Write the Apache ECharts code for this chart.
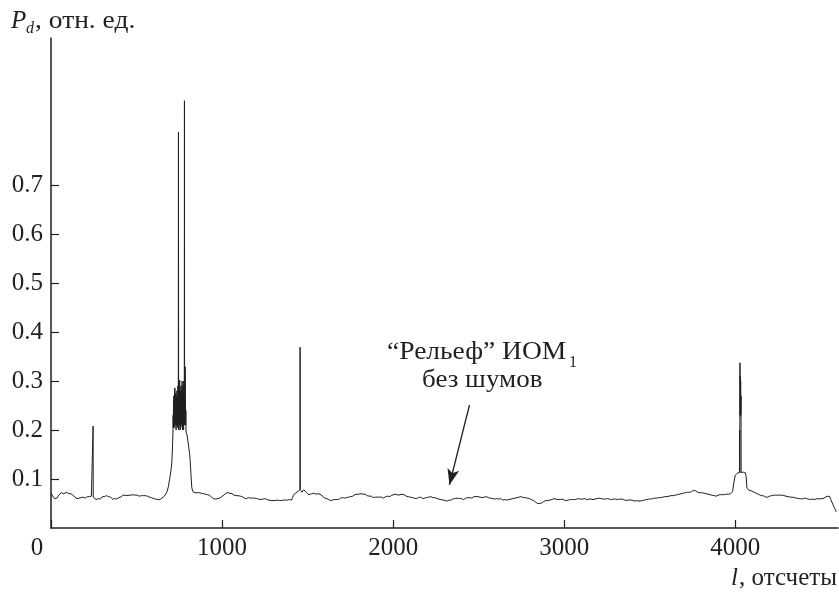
<!DOCTYPE html>
<html>
<head>
<meta charset="utf-8">
<script src="https://cdn.jsdelivr.net/npm/echarts@6/dist/echarts.min.js"></script>
<style>html,body{margin:0;padding:0;background:#fff}#c{width:839px;height:592px}</style>
</head>
<body>
<div id="c"></div>
<script>
const segStart = [
[0,.071],[5,.068],[10,.065],[15,.063],[20,.060],[25,.058],[30,.059],[35,.061],[40,.064],[45,.067],[50,.069],[55,.070],[60,.072],[65,.069],[70,.071],[75,.070],[80,.072],[86,.071],[92,.073],[98,.071],[104,.070],[110,.072],[116,.070],[122,.069],[128,.067],[134,.065],[140,.063],[146,.062],[152,.060],[158,.062],[164,.061],[170,.060],[176,.062],[182,.061],[188,.063],[194,.062],[200,.061],[206,.063],[212,.064],[218,.062],[224,.064],[230,.063],[236,.065],[242,.064],[245,.064],[246,.208],[247,.063],
[252,.061],[258,.060],[264,.058],[270,.059],[276,.060],[282,.058],[288,.059],[294,.062],[300,.064],[306,.066],[312,.064],[318,.065],[324,.066],[330,.063],[336,.064],[342,.062],[348,.063],[354,.060],[360,.059],[366,.058],[372,.060],[378,.058],[384,.059],[390,.061],[396,.062],[402,.064],[408,.063],[414,.066],[420,.067],[426,.069],[432,.067],[438,.068],[444,.066],[450,.068],[456,.067],[462,.069],[468,.067],[474,.066],[480,.068],[486,.066],[492,.067],[498,.065],[504,.067],[510,.066],[516,.065],[522,.067],[528,.066],[534,.064],[540,.066],[546,.065],[552,.066],[558,.064],[564,.065],[570,.064],[576,.063],[582,.064],[588,.062],[594,.061],[600,.060],[606,.061],[612,.059],[618,.060],[624,.058],[630,.059],[636,.058],[642,.060],[648,.061],[654,.062],[660,.064],[667,.066],[676,.072],[686,.084],[696,.105],[702,.12]
];
const segMainPeak = [
[706,.133],[709,.155],[711,.175],[713,.2],[714,.23],[715,.205],[716,.26],[717,.21],[718,.27],[719,.215],[720,.25],[721,.205],[722,.28],[723,.22],[724,.286],[725,.21],[726,.26],[727,.22],[728,.275],[729,.215],[730,.25],[731,.2],[732,.27],[733,.22],[734,.26],[735,.21],[736,.28],[737,.23],[738,.25],[739,.205],[740,.27],[741,.22],[742,.29],[743,.23],[744,.25],[745,.808],[746,.24],[747,.2],[748,.27],[749,.215],[750,.28],[751,.22],[752,.302],[753,.21],[754,.26],[755,.2],[756,.28],[757,.22],[758,.27],[759,.205],[760,.29],[761,.23],[762,.25],[763,.21],[764,.28],[765,.22],[766,.3],[767,.215],[768,.26],[769,.2],[770,.28],[771,.23],[772,.29],[773,.21],[774,.25],[775,.2],[776,.3],[777,.22],[778,.27],[779,.21],[780,.872],[781,.22],[782,.3],[783,.21],[784,.329],[785,.23],[786,.26],[787,.21],[788,.24],[789,.2],[790,.195],[795,.19],[800,.178],[805,.165],[810,.152],[813,.14],[818,.11],[823,.082],[830,.074]
];
const segMiddle = [
[836,.073],[842,.072],[848,.074],[854,.072],[860,.071],[866,.072],[872,.070],[878,.071],[884,.069],[890,.070],[896,.068],[902,.069],[908,.067],[914,.068],[920,.066],[926,.067],[932,.064],[938,.063],[944,.061],[950,.060],[956,.058],[962,.059],[968,.058],[974,.060],[980,.059],[986,.061],[992,.062],[998,.064],[1004,.065],[1010,.067],[1016,.069],[1022,.071],[1028,.073],[1034,.072],[1040,.073],[1046,.071],[1052,.069],[1058,.070],[1064,.068],[1070,.067],[1076,.068],[1082,.066],[1088,.065],[1094,.066],[1100,.064],[1106,.065],[1112,.063],[1118,.064],[1124,.062],[1130,.061],[1136,.062],[1142,.060],[1148,.061],[1154,.062],[1160,.060],[1166,.061],[1172,.059],[1178,.061],[1184,.060],[1190,.061],[1196,.059],[1202,.060],[1208,.061],[1214,.059],[1220,.060],[1226,.058],[1232,.060],[1238,.059],[1244,.058],[1250,.060],[1256,.059],[1262,.058],[1268,.059],[1274,.057],[1280,.058],[1286,.056],[1292,.057],[1298,.056],[1304,.058],[1310,.056],[1316,.055],[1322,.057],[1328,.055],[1334,.056],[1340,.054],[1346,.056],[1352,.055],[1358,.057],[1364,.056],[1370,.057],[1376,.055],[1382,.057],[1388,.056],[1394,.058],[1400,.056],[1406,.057],[1412,.062],[1418,.067],[1424,.070],[1430,.072],[1436,.071],[1442,.074],[1448,.075],[1453,.077],[1455,.079],[1456,.369],[1457,.078],
[1462,.075],[1467,.073],[1472,.076],[1477,.078],[1482,.080],[1487,.077],[1492,.073],[1497,.071],[1502,.069],[1507,.068],[1512,.066],[1518,.068],[1524,.070],[1530,.069],[1536,.071],[1542,.068],[1548,.069],[1554,.071],[1560,.070],[1566,.068],[1572,.069],[1578,.067],[1584,.066],[1590,.064],[1596,.062],[1602,.061],[1608,.060],[1614,.058],[1620,.059],[1626,.057],[1632,.056],[1638,.058],[1644,.057],[1650,.059],[1656,.058],[1662,.060],[1668,.058],[1674,.059],[1680,.058],[1686,.060],[1692,.061],[1698,.060],[1704,.062],[1710,.060],[1716,.061],[1722,.060],[1728,.062],[1734,.061],[1740,.063],[1746,.062],[1752,.064],[1758,.063],[1764,.065],[1770,.066],[1776,.068],[1782,.067],[1788,.069],[1794,.070],[1800,.069],[1806,.071],[1812,.070],[1818,.071],[1824,.069],[1830,.068],[1836,.069],[1842,.067],[1848,.066],[1854,.067],[1860,.065],[1866,.064],[1872,.065],[1878,.063],[1884,.062],[1890,.064],[1896,.063],[1902,.065],[1908,.063],[1914,.062],[1920,.063],[1926,.061],[1932,.063],[1938,.062],[1944,.061],[1950,.063],[1956,.064],[1962,.066],[1968,.065],[1974,.066],[1980,.064],[1986,.066],[1992,.067],[1998,.066]
];
const segQuiet = [
[2004,.068],[2010,.067],[2016,.069],[2022,.068],[2028,.067],[2034,.069],[2040,.068],[2046,.070],[2052,.069],[2058,.067],[2064,.068],[2070,.066],[2076,.065],[2082,.066],[2088,.064],[2094,.065],[2100,.063],[2106,.064],[2112,.062],[2118,.063],[2124,.061],[2130,.062],[2136,.060],[2142,.061],[2148,.062],[2154,.061],[2160,.063],[2166,.062],[2172,.060],[2178,.062],[2184,.061],[2190,.063],[2196,.062],[2202,.064],[2208,.063],[2214,.062],[2220,.064],[2226,.063],[2232,.062],[2238,.064],[2244,.062],[2250,.061],[2256,.060],[2262,.061],[2268,.059],[2274,.060],[2280,.058],[2286,.059],[2292,.057],[2298,.058],[2304,.056],[2310,.057],[2316,.055],[2322,.056],[2328,.057],[2334,.058],[2340,.057],[2346,.059],[2352,.060],[2358,.058],[2364,.060],[2370,.059],[2376,.061],[2382,.059],[2388,.060],[2394,.058],[2400,.060],[2406,.059],[2412,.058],[2418,.060],[2424,.061],[2430,.060],[2436,.062],[2442,.061],[2448,.062],[2454,.063],[2460,.061],[2466,.062],[2472,.064],[2478,.063],[2484,.064],[2490,.062],[2496,.064],[2502,.065],[2508,.063],[2514,.064],[2520,.062],[2526,.064],[2532,.063],[2538,.065],[2544,.064],[2550,.063],[2556,.062],[2562,.063],[2568,.061],[2574,.062],[2580,.060],[2586,.061],[2592,.059],[2598,.061],[2604,.060],[2610,.058],[2616,.059],[2622,.058],[2628,.060],[2634,.058],[2640,.057],[2646,.059],[2652,.058],[2658,.056],[2664,.057],[2670,.059],[2676,.058],[2682,.060],[2688,.059],[2694,.061],[2700,.060],[2706,.062],[2712,.061],[2718,.063],[2724,.062],[2730,.061],[2736,.063],[2742,.062],[2748,.064],[2754,.063],[2760,.062],[2766,.064],[2772,.062],[2778,.063],[2784,.061],[2790,.062],[2796,.060],
[2802,.059],[2808,.058],[2814,.057],[2820,.056],[2826,.054],[2832,.053],[2838,.051],[2844,.050],[2850,.049],[2856,.050],[2862,.049],[2868,.051],[2874,.052],[2880,.054],[2886,.055],[2892,.056],[2898,.057],[2904,.056],[2910,.058],[2916,.057],[2922,.059],[2928,.058],[2934,.059],[2940,.060],[2946,.058],[2952,.059],[2958,.057],[2964,.058],[2970,.056],[2976,.058],[2982,.057],[2988,.059],[2994,.058],[3000,.057],[3006,.058],[3012,.056],[3018,.058],[3024,.057],[3030,.059],[3036,.058],[3042,.057],[3048,.058],[3054,.056],[3060,.058],[3066,.057],[3072,.059],[3078,.058],[3084,.060],[3090,.058],[3096,.059],[3102,.057],[3108,.059],[3114,.058],[3120,.060],[3126,.059],[3132,.058],[3138,.060],[3144,.059],[3150,.061],[3156,.059],[3162,.060],[3168,.058],[3174,.060],[3180,.059],[3186,.058],[3192,.060],[3198,.059],[3204,.061],[3210,.059],[3216,.060],[3222,.058],[3228,.059],[3234,.057],[3240,.059],[3246,.058],[3252,.060],[3258,.058],[3264,.059],[3270,.060],[3276,.058],[3282,.060],[3288,.059],[3294,.061],[3300,.059],[3306,.060],[3312,.058],[3318,.060],[3324,.059],[3330,.058],[3336,.059],[3342,.057],[3348,.058],[3354,.057],[3360,.056],[3366,.058],[3372,.057],[3378,.056],[3384,.057],[3390,.055],[3396,.057],[3402,.056],[3408,.055],[3414,.057],[3420,.056],[3426,.057],[3432,.055],[3438,.056],[3444,.055],[3450,.057],[3456,.056],[3462,.058],[3468,.057],[3474,.059],[3480,.058],[3486,.060],[3492,.059],[3498,.060],[3504,.059],[3510,.061],[3516,.060],[3522,.062],[3528,.061],[3534,.062],[3540,.061],[3546,.063],[3552,.062],[3558,.063],[3564,.062],[3570,.064],[3576,.063],[3582,.065],[3588,.064],[3594,.065],[3600,.064],[3606,.066],[3612,.065],[3618,.067],[3624,.066],[3630,.067],[3636,.066],[3642,.068],[3648,.067],[3654,.069],[3660,.068],[3666,.070],[3672,.069],[3678,.071],[3684,.070],[3690,.072],[3696,.071],[3702,.073],[3708,.072],[3714,.074],[3720,.073],[3726,.074],[3732,.073],[3738,.075],[3744,.074],[3750,.076],[3756,.077],[3762,.075],[3768,.076],[3774,.074],[3780,.073],[3786,.074],[3792,.072],[3798,.071],[3804,.072],[3810,.070],[3816,.071],[3822,.069],[3828,.070],[3834,.068],[3840,.069],[3846,.067],[3852,.068],[3858,.066],[3864,.067],[3870,.068],[3876,.066],[3882,.067],[3888,.065],[3894,.066],[3900,.067],[3906,.066],[3912,.068],[3918,.067],[3924,.068],[3930,.069],[3936,.068],[3942,.070],[3948,.069],[3954,.070],[3960,.069],[3966,.071],[3972,.070],[3978,.071]
];
const segPeak4000 = [
[3984,.074],[3990,.09],[3995,.1],[4000,.108],[4006,.11],[4012,.112],[4018,.111],[4024,.113],[4025,.2],[4026,.113],[4027,.337],[4028,.23],[4029,.31],[4030,.228],[4031,.30],[4032,.232],[4033,.27],[4034,.113],[4040,.112],[4046,.114],[4052,.112],[4058,.113],[4063,.105],[4066,.09],[4068,.081]
];
const segEnd = [
[4074,.078],[4080,.077],[4086,.078],[4092,.076],[4098,.075],[4104,.074],[4110,.073],[4116,.072],[4122,.071],[4128,.070],[4134,.069],[4140,.068],[4146,.067],[4152,.066],[4158,.065],[4164,.066],[4170,.064],[4176,.063],[4182,.064],[4188,.063],[4194,.064],[4200,.065],[4206,.064],[4212,.066],[4218,.065],[4224,.067],[4230,.066],[4236,.067],[4242,.068],[4248,.067],[4254,.068],[4260,.067],[4266,.066],[4272,.067],[4278,.065],[4284,.066],[4290,.064],[4296,.065],[4302,.063],[4308,.064],[4314,.062],[4320,.063],[4326,.062],[4332,.063],[4338,.061],[4344,.062],[4350,.060],[4356,.061],[4362,.062],[4368,.060],[4374,.061],[4380,.060],[4386,.061],[4392,.059],[4398,.060],[4404,.061],[4410,.059],[4416,.060],[4422,.061],[4428,.059],[4434,.060],[4440,.058],[4446,.060],[4452,.059],[4458,.060],[4464,.058],[4470,.059],[4476,.060],[4482,.058],[4488,.059],[4494,.058],[4500,.060],[4506,.059],[4512,.060],[4518,.061],[4524,.062],[4530,.063],[4536,.065],[4542,.066],[4546,.067],[4552,.064],[4558,.058],[4564,.053],[4570,.048],[4576,.044],[4582,.039],[4590,.033]
];
const xTickValues = [0, 1000, 2000, 3000, 4000];
const yTickValues = [0.1, 0.2, 0.3, 0.4, 0.5, 0.6, 0.7];
const arrowFrom = [2446, 0.251];
const arrowTo = [2329, 0.088];

const FONT = "Liberation Serif";
const INK = '#231f20';
const seriesData = [].concat(segStart, segMainPeak, segMiddle, segQuiet, segPeak4000, segEnd);

function txt(pos, text, size, italic, sx) {
  return Object.assign({type: 'text', scaleX: sx || 1, scaleY: 1, originX: 0, originY: 0,
    style: {text: text, fontFamily: FONT, fontSize: size, fontStyle: italic ? 'italic' : 'normal', fill: INK}}, pos);
}

const chart = echarts.init(document.getElementById('c'), null, {renderer: 'canvas'});
chart.setOption({
  animation: false,
  backgroundColor: '#fff',
  grid: {left: 51, right: 1, top: 38, bottom: 64, containLabel: false},
  xAxis: {
    type: 'value', min: 0, max: 4600, interval: 1000,
    axisLine: {lineStyle: {color: INK, width: 1.5}},
    axisTick: {inside: true, length: 8, customValues: xTickValues, lineStyle: {color: INK, width: 1.2}},
    splitLine: {show: false},
    axisLabel: {
      customValues: xTickValues, margin: 8, color: INK, fontFamily: FONT, fontSize: 25,
      formatter: v => v === 0 ? '{z|0}' : String(v),
      rich: {z: {padding: [0, 28, 0, 0], color: INK, fontFamily: FONT, fontSize: 25}}
    }
  },
  yAxis: {
    type: 'value', min: 0, max: 1.0, interval: 0.1,
    axisLine: {show: true, lineStyle: {color: INK, width: 1.5}},
    axisTick: {show: true, inside: true, length: 8, customValues: yTickValues, lineStyle: {color: INK, width: 1.2}},
    splitLine: {show: false},
    axisLabel: {customValues: yTickValues, margin: 8, color: INK, fontFamily: FONT, fontSize: 25,
      formatter: v => v.toFixed(1)}
  },
  series: [{
    type: 'line', data: seriesData, showSymbol: false, sampling: 'none',
    lineStyle: {color: '#1e1e1e', width: 1}, silent: true,
    markLine: {
      silent: true, animation: false,
      symbol: ['none', 'arrow'], symbolSize: [9, 16],
      lineStyle: {color: INK, width: 1.3, type: 'solid'},
      label: {show: false},
      data: [[{coord: arrowFrom}, {coord: arrowTo}]]
    }
  }],
  graphic: [
    txt({left: 11, top: 9}, 'P', 25, true),
    txt({left: 26, top: 21}, 'd', 16, true),
    txt({left: 35, top: 9}, ', отн. ед.', 25, false, 1.1),
    txt({left: 731, top: 566}, 'l', 25, true),
    txt({right: 2, top: 566}, ', отсчеты', 25, false),
    txt({left: 387, top: 340}, '“Рельеф” ИОМ', 25, false, 1.1),
    txt({left: 569, top: 355}, '1', 16, false),
    txt({left: 422, top: 368}, 'без шумов', 25, false, 1.08)
  ]
});
</script>
</body>
</html>
